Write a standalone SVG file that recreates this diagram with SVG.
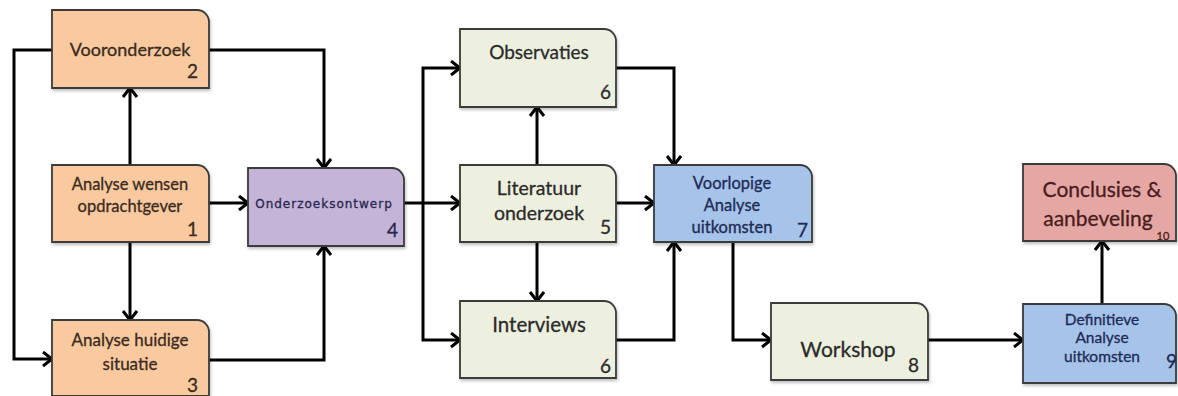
<svg xmlns="http://www.w3.org/2000/svg" width="1178" height="396" viewBox="0 0 1178 396">
  <style>
    .box { stroke: #3a3a3a; stroke-width: 1.8; filter: url(#shadow); }
    .orange { fill: #F9C9A0; }
    .purple { fill: #C4B5D8; }
    .cream { fill: #EEF0DF; }
    .blue { fill: #A6C3EA; }
    .red { fill: #E5A7A4; }
    text { font-family: Lato, "Liberation Sans", sans-serif; text-anchor: middle; stroke-width: 0.3; }
    .t-orange { fill: #3b2b1e; stroke: #3b2b1e; }
    .t-purple { fill: #2a2550; stroke: #2a2550; }
    .t-cream { fill: #2b2b2b; stroke: #2b2b2b; }
    .t-blue { fill: #1d2b55; stroke: #1d2b55; }
    .t-red { fill: #4a1c1c; stroke: #4a1c1c; }
    .num { text-anchor: end; font-size: 19px; }
    .conn { fill: none; stroke: #000; stroke-width: 3; marker-end: url(#arrow); }
  </style>
  <defs>
    <marker id="arrow" markerUnits="userSpaceOnUse" markerWidth="14" markerHeight="18" refX="11" refY="8" orient="auto">
      <path d="M2,1 L11,8 L2,15" fill="none" stroke="#000" stroke-width="3" stroke-linejoin="miter"/>
    </marker>
    <filter id="shadow" x="-10%" y="-10%" width="125%" height="130%">
      <feDropShadow dx="1" dy="2" stdDeviation="1.5" flood-color="#000" flood-opacity="0.25"/>
    </filter>
  </defs>

  <!-- connectors -->
  <g id="connectors">
    <path class="conn" d="M52,50 H14 V359 H52"/>
    <path class="conn" d="M130,165 V88"/>
    <path class="conn" d="M130,242 V320"/>
    <path class="conn" d="M209,203 H248"/>
    <path class="conn" d="M209,50 H324 V168"/>
    <path class="conn" d="M209,360 H324 V246"/>
    <path class="conn" d="M404,203 H460"/>
    <path class="conn" d="M423,203 V68 H460"/>
    <path class="conn" d="M423,203 V340 H460"/>
    <path class="conn" d="M537,165 V107"/>
    <path class="conn" d="M537,242 V301"/>
    <path class="conn" d="M616,68 H674 V165"/>
    <path class="conn" d="M616,203 H654"/>
    <path class="conn" d="M616,340 H674 V242"/>
    <path class="conn" d="M733,242 V340 H771"/>
    <path class="conn" d="M928,340 H1023"/>
    <path class="conn" d="M1102,304 V241"/>
  </g>

  <!-- 2: Vooronderzoek -->
  <g id="node2">
    <path class="box orange" d="M52,10 H197 A12,12 0 0 1 209,22 V88 H52 Z"/>
    <text class="t-orange" x="130" y="56" font-size="18">Vooronderzoek</text>
    <text class="t-orange num" x="198" y="78">2</text>
  </g>

  <!-- 1: Analyse wensen opdrachtgever -->
  <g id="node1">
    <path class="box orange" d="M52,165 H197 A12,12 0 0 1 209,177 V242 H52 Z"/>
    <text class="t-orange" x="130" y="190" font-size="16.5">Analyse wensen</text>
    <text class="t-orange" x="130" y="212" font-size="16.5">opdrachtgever</text>
    <text class="t-orange num" x="198" y="236">1</text>
  </g>

  <!-- 3: Analyse huidige situatie -->
  <g id="node3">
    <path class="box orange" d="M52,320 H197 A12,12 0 0 1 209,332 V396 H52 Z"/>
    <text class="t-orange" x="130" y="346" font-size="17">Analyse huidige</text>
    <text class="t-orange" x="130" y="370" font-size="17">situatie</text>
    <text class="t-orange num" x="198" y="392">3</text>
  </g>

  <!-- 4: Onderzoeksontwerp -->
  <g id="node4">
    <path class="box purple" d="M248,168 H392 A12,12 0 0 1 404,180 V246 H248 Z"/>
    <text class="t-purple" x="324" y="208" font-size="12" style="font-family:'DejaVu Sans',sans-serif" letter-spacing="1">Onderzoeksontwerp</text>
    <text class="t-purple num" x="398" y="237">4</text>
  </g>

  <!-- 6: Observaties -->
  <g id="node6a">
    <path class="box cream" d="M460,29 H604 A12,12 0 0 1 616,41 V107 H460 Z"/>
    <text class="t-cream" x="539" y="59" font-size="19">Observaties</text>
    <text class="t-cream num" x="611" y="99">6</text>
  </g>

  <!-- 5: Literatuur onderzoek -->
  <g id="node5">
    <path class="box cream" d="M460,165 H604 A12,12 0 0 1 616,177 V242 H460 Z"/>
    <text class="t-cream" x="539" y="195" font-size="19.5">Literatuur</text>
    <text class="t-cream" x="539" y="220" font-size="19.5">onderzoek</text>
    <text class="t-cream num" x="611" y="234">5</text>
  </g>

  <!-- 6: Interviews -->
  <g id="node6b">
    <path class="box cream" d="M460,301 H604 A12,12 0 0 1 616,313 V378 H460 Z"/>
    <text class="t-cream" x="539" y="332" font-size="20.5">Interviews</text>
    <text class="t-cream num" x="611" y="373">6</text>
  </g>

  <!-- 7: Voorlopige Analyse uitkomsten -->
  <g id="node7">
    <path class="box blue" d="M654,165 H800 A12,12 0 0 1 812,177 V242 H654 Z"/>
    <text class="t-blue" x="732" y="189" font-size="16.5">Voorlopige</text>
    <text class="t-blue" x="732" y="211" font-size="16.5">Analyse</text>
    <text class="t-blue" x="732" y="233" font-size="16.5">uitkomsten</text>
    <text class="t-blue num" x="808" y="237" font-size="21">7</text>
  </g>

  <!-- 8: Workshop -->
  <g id="node8">
    <path class="box cream" d="M771,303 H916 A12,12 0 0 1 928,315 V380 H771 Z"/>
    <text class="t-cream" x="848" y="357" font-size="21">Workshop</text>
    <text class="t-cream num" x="919" y="372">8</text>
  </g>

  <!-- 9: Definitieve Analyse uitkomsten -->
  <g id="node9">
    <path class="box blue" d="M1023,304 H1164 A12,12 0 0 1 1176,316 V383 H1023 Z"/>
    <text class="t-blue" x="1102" y="325" font-size="15.5">Definitieve</text>
    <text class="t-blue" x="1102" y="343" font-size="15.5">Analyse</text>
    <text class="t-blue" x="1102" y="362" font-size="15.5">uitkomsten</text>
    <text class="t-blue num" x="1177" y="368">9</text>
  </g>

  <!-- 10: Conclusies & aanbeveling -->
  <g id="node10">
    <path class="box red" d="M1023,164 H1164 A12,12 0 0 1 1176,176 V241 H1023 Z"/>
    <text class="t-red" x="1102" y="197" font-size="21">Conclusies &amp;</text>
    <text class="t-red" x="1098" y="226" font-size="21">aanbeveling</text>
    <text class="t-red" x="1163" y="240" font-size="11">10</text>
  </g>
</svg>
